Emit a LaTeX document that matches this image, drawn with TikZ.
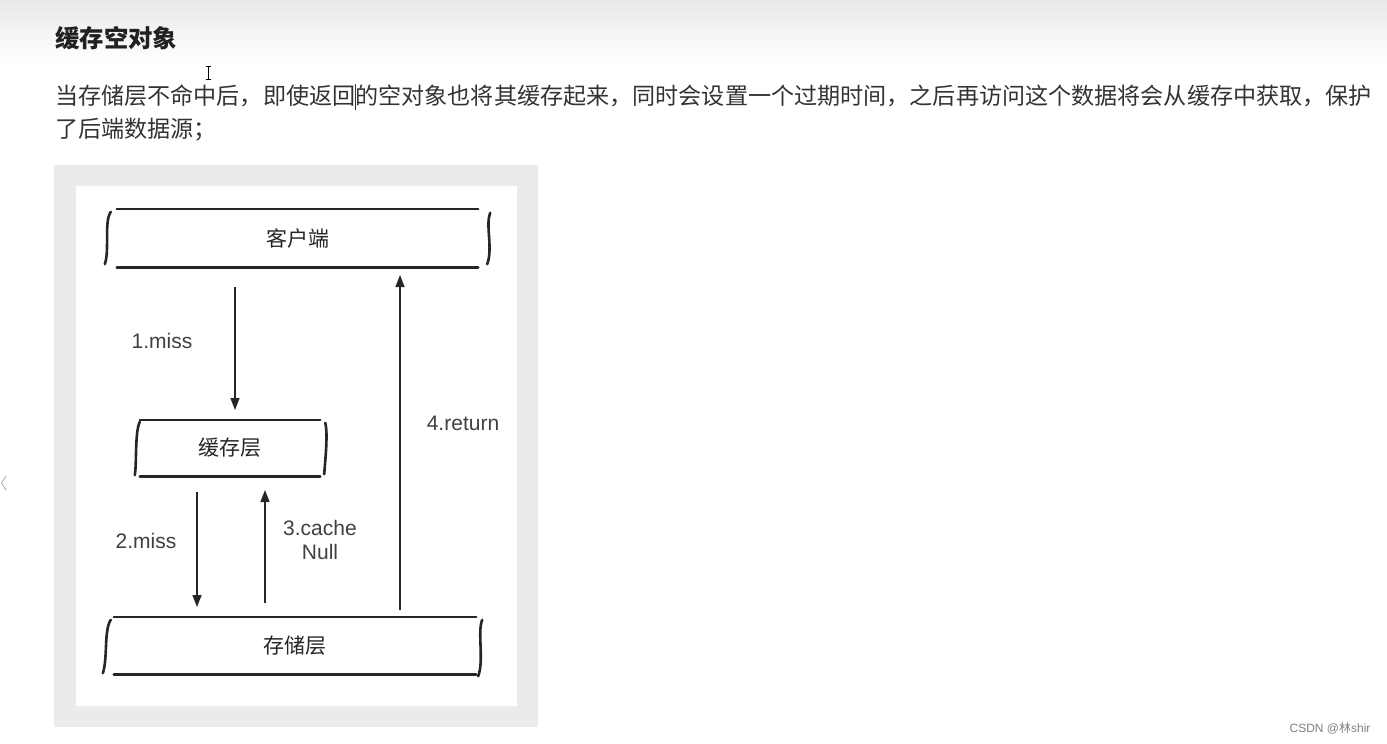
\documentclass[tikz,border=0pt]{standalone}
\usepackage{fontspec}
\setmainfont{Liberation Sans}
\newfontfamily\cjk{Noto Sans CJK SC}
\usetikzlibrary{arrows.meta}
\tikzset{%
  tipA/.tip={Triangle[length=12pt,width=9pt]},
  layer/.style={inner sep=0pt, font=\cjk\fontsize{21}{21}\selectfont, text=black!85},
  sketch/.style={color=black!85, line width=2.6pt, line cap=round},
  flow/.style={color=black!85, line width=1.4pt, -tipA},
  flowlabel/.style={font=\fontsize{21}{24}\selectfont, text=black!75, align=center}
}

\begin{document}
\begin{tikzpicture}[x=1pt,y=-1pt]
    \useasboundingbox (0,0) rectangle (1387,744);
    \shade[top color=black!9, bottom color=white] (0,0) rectangle (1387,62);
    \node[anchor=west, inner sep=0pt, font=\cjk\bfseries\fontsize{24.4}{26}\selectfont, text=black!87] (title) at (55,38) {缓存空对象};
    \node[anchor=north west, inner sep=0pt, align=left, font=\cjk\fontsize{23.1}{33}\selectfont, text=black!80] (intro) at (55,85)
      {当存储层不命中后，即使返回的空对象也将其缓存起来，同时会设置一个过期时间，之后再访问这个数据将会从缓存中获取，保护\\了后端数据源；};
    \fill[black!8] (54,165) rectangle (538,727);
    \fill[white] (76,186) rectangle (517,706);
    % layers
    \node[layer, minimum width=361, minimum height=58] (client) at (297.5,238) {客户端};
    \node[layer, minimum width=180, minimum height=56] (cache) at (230,448) {缓存层};
    \node[layer, minimum width=362, minimum height=57] (store) at (295,645.5) {存储层};
    \draw[sketch] (client.north west) -- (client.north east);
    \draw[sketch] (client.south west) -- (client.south east);
    \draw[sketch] ([xshift=-6pt,yshift=-3pt]client.north west) .. controls +(-7,10) and +(5,-14) .. ([xshift=-12pt,yshift=3pt]client.south west);
    \draw[sketch] ([xshift=12pt,yshift=-4pt]client.north east) .. controls +(-5,12) and +(6,-16) .. ([xshift=9pt,yshift=3pt]client.south east);
    \draw[sketch] (cache.north west) -- (cache.north east);
    \draw[sketch] (cache.south west) -- (cache.south east);
    \draw[sketch] ([yshift=-2pt]cache.north west) .. controls +(-5,10) and +(2,-12) .. ([xshift=-5pt,yshift=1pt]cache.south west);
    \draw[sketch] ([xshift=5pt,yshift=-3pt]cache.north east) .. controls +(3,10) and +(1,-14) .. ([xshift=4pt,yshift=2pt]cache.south east);
    \draw[sketch] (store.north west) -- (store.north east);
    \draw[sketch] (store.south west) -- (store.south east);
    \draw[sketch] ([xshift=-3pt,yshift=-3pt]store.north west) .. controls +(-7,10) and +(5,-14) .. ([xshift=-11pt,yshift=1pt]store.south west);
    \draw[sketch] ([xshift=6pt,yshift=-3pt]store.north east) .. controls +(-5,12) and +(6,-16) .. ([xshift=2pt,yshift=-2pt]store.south east);
    % steps
    \coordinate (m1a) at (235,287);
    \coordinate (m1b) at (235,410);
    \coordinate (m2a) at (197,492);
    \coordinate (m2b) at (197,607);
    \coordinate (c3a) at (265,603);
    \coordinate (c3b) at (265,490);
    \coordinate (r4a) at (400,610);
    \coordinate (r4b) at (400,275);
    \draw[flow] (m1a) -- (m1b);
    \draw[flow] (m2a) -- (m2b);
    \draw[flow] (c3a) -- (c3b);
    \draw[flow] (r4a) -- (r4b);
    \node[flowlabel] (l1) at (162,341) {1.miss};
    \node[flowlabel] (l2) at (146,541) {2.miss};
    \node[flowlabel] (l3) at (320,540) {3.cache\\Null};
    \node[flowlabel] (l4) at (463,423) {4.return};
    \node[font=\fontsize{12}{12}\selectfont, text=black!50] (mark) at (1330,728) {CSDN @{\cjk 林}shir};
    \draw[black!35, line width=0.8pt] (6,476) -- (1.5,483) -- (6,490);
    \draw[black, line width=0.7pt] (208,66) -- (208,79) (205.5,66) -- (210.5,66) (205.5,79) -- (210.5,79);
    \draw[black!80, line width=0.8pt] (355.8,84) -- (355.8,110);
\end{tikzpicture}
\end{document}
